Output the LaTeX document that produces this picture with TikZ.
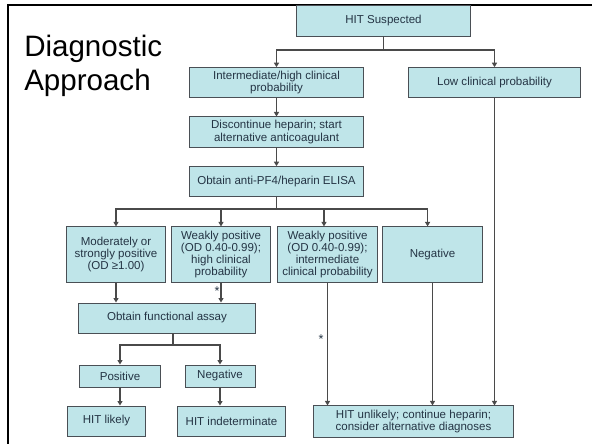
\documentclass[tikz,border=0pt]{standalone}
\usepackage{fontspec}
\setmainfont{Liberation Sans}
\usepackage{xcolor}
\usetikzlibrary{arrows.meta,positioning,calc}

\definecolor{boxfill}{HTML}{BFE5E9}
\definecolor{boxline}{HTML}{4A4F55}
\definecolor{boxtext}{HTML}{243444}
\definecolor{wire}{HTML}{4A4A4A}

\begin{document}
\begin{tikzpicture}[x=0.025cm, y=-0.025cm,
  step box/.style={draw=boxline, line width=0.7pt, fill=boxfill,
    align=center, inner sep=1.5pt, text=boxtext,
    font=\fontsize{8.2}{8.6}\selectfont},
  flow/.style={-{Triangle[length=3.2pt,width=3.6pt]}, line width=0.8pt, draw=wire},
  link/.style={line width=0.8pt, draw=wire},
  mark box/.style={inner sep=0pt, font=\fontsize{9}{9}\selectfont, text=boxtext}
]
\useasboundingbox (0,0) rectangle (592,444);
\draw[line width=1.8pt] (8,450) -- (8,5) -- (600,5);

\node[anchor=north west, align=left, inner sep=0pt,
  font=\fontsize{21}{24}\selectfont] (title) at (24,35) {Diagnostic\\Approach};

\node[step box, minimum width=4.33cm, minimum height=0.75cm] (susp) at (383.5,21) {HIT Suspected};
\node[step box, minimum width=4.33cm, minimum height=0.74cm] (inter) at (276.5,82.5) {Intermediate/high clinical\\probability};
\node[step box, minimum width=4.28cm, minimum height=0.74cm] (low) at (494.5,82.5) {Low clinical probability};
\node[step box, minimum width=4.33cm, minimum height=0.75cm] (disc) at (276.5,132) {Discontinue heparin; start\\alternative anticoagulant};
\node[step box, minimum width=4.33cm, minimum height=0.74cm] (elisa) at (276.5,181.5) {Obtain anti-PF4/heparin ELISA};

\node[step box, minimum width=2.45cm, minimum height=1.38cm] (strong) at (116,254.5) {Moderately or\\strongly positive\\(OD ≥1.00)};
\node[step box, minimum width=2.45cm, minimum height=1.38cm] (weakhigh) at (221,254.5) {Weakly positive\\(OD 0.40-0.99);\\high clinical\\probability};
\node[step box, minimum width=2.48cm, minimum height=1.38cm] (weakmid) at (327.5,254.5) {Weakly positive\\(OD 0.40-0.99);\\intermediate\\clinical probability};
\node[step box, minimum width=2.48cm, minimum height=1.38cm] (negative) at (432.5,254.5) {Negative};

\node[step box, minimum width=4.4cm, minimum height=0.75cm] (assay) at (167,318) {Obtain functional assay};
\node[step box, minimum width=2.0cm, minimum height=0.55cm] (fpos) at (120,376) {Positive};
\node[step box, minimum width=1.75cm, minimum height=0.55cm] (fneg) at (220,376) {Negative};

\node[step box, minimum width=1.93cm, minimum height=0.75cm] (likely) at (106.5,421) {HIT likely};
\node[step box, minimum width=2.68cm, minimum height=0.75cm] (indet) at (231.5,421) {HIT indeterminate};
\node[step box, minimum width=4.98cm, minimum height=0.78cm] (unlikely) at (413.5,421.5) {HIT unlikely; continue heparin;\\consider alternative diagnoses};

\node[mark box] (star1) at (217,291) {*};
\node[mark box] (star2) at (321,339) {*};

\coordinate (split1) at (383.5,50);
\coordinate (split2) at (276.5,209);
\coordinate (split3) at (173,345);

\draw[link] (susp.south) -- (split1);
\draw[flow] (split1) -| (inter.north);
\draw[flow] (split1) -| (low.north);
\draw[flow] (inter) -- (disc);
\draw[flow] (disc) -- (elisa);
\draw[link] (elisa.south) -- (split2);
\draw[flow] (split2) -| (strong.north);
\draw[flow] (split2) -| (weakhigh.north);
\draw[flow] (split2) -| ([xshift=-2.5]weakmid.north);
\draw[flow] (split2) -| ([xshift=-3.5]negative.north);

\draw[flow] (strong.south) -- (strong.south |- assay.north);
\draw[flow] (weakhigh.south) -- (weakhigh.south |- assay.north);
\draw[link] (assay.south -| split3) -- (split3);
\draw[flow] (split3) -| (fpos.north);
\draw[flow] (split3) -| (fneg.north);
\draw[flow] (fpos.south) -- (fpos.south |- likely.north);
\draw[flow] (fneg.south) -- (fneg.south |- indet.north);

\draw[flow] (weakmid.south) -- (weakmid.south |- unlikely.north);
\draw[flow] (negative.south) -- (negative.south |- unlikely.north);
\draw[flow] (low.south) -- (low.south |- unlikely.north);
\end{tikzpicture}
\end{document}
